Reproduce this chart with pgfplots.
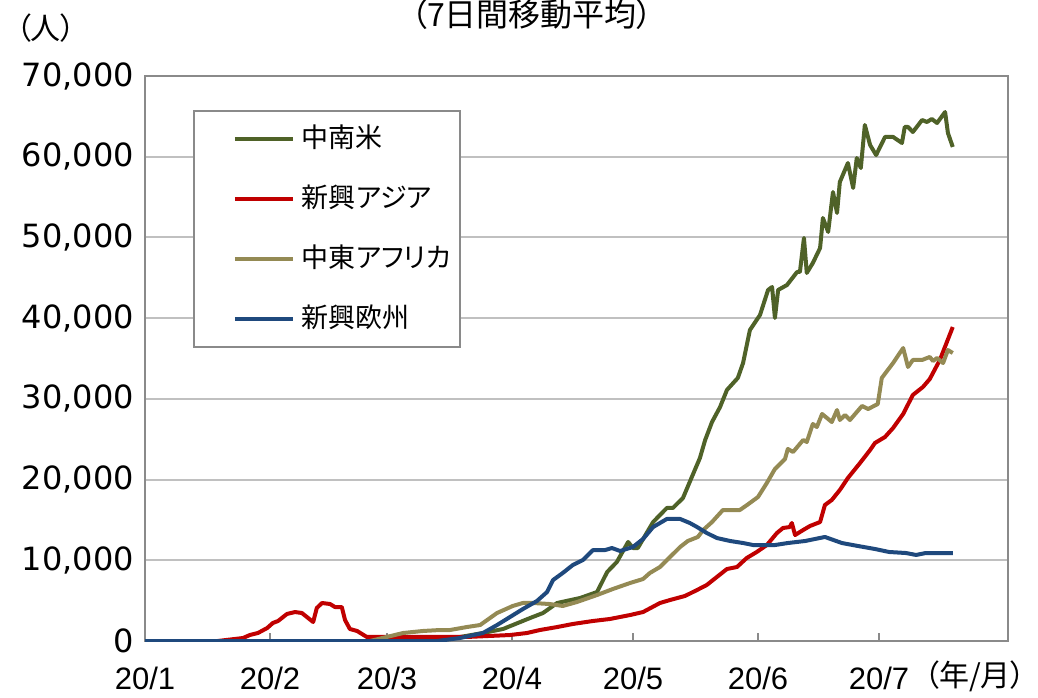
\documentclass[border=0pt]{standalone}
\usepackage{fontspec}
\usepackage{pgfplots}
\pgfplotsset{compat=1.18}
\setmainfont{DejaVu Sans}
\newfontfamily\jp[RawFeature=+palt]{Noto Sans CJK JP}
\newfontfamily\xf{Liberation Sans}
\definecolor{cgreen}{HTML}{4F6228}
\definecolor{cred}{HTML}{C00000}
\definecolor{ctan}{HTML}{948A54}
\definecolor{cblue}{HTML}{1F497D}
\definecolor{cgrid}{HTML}{C0C0C0}
\definecolor{caxis}{HTML}{8A8A8A}
\begin{document}
\begin{tikzpicture}
\useasboundingbox (0,0) rectangle (519pt,348.5pt);
\begin{axis}[
  at={(72.5pt,28pt)}, anchor=south west,
  scale only axis, width=431.5pt, height=282.5pt,
  xmin=0, xmax=214, ymin=0, ymax=70000,
  xtick={0,31,60,91,121,152,182},
  xticklabels={20/1,20/2,20/3,20/4,20/5,20/6,20/7},
  ytick={0,10000,20000,30000,40000,50000,60000,70000},
  ymajorgrids, grid style={cgrid, line width=1pt},
  axis line style={caxis, line width=1pt},
  x tick style={caxis, line width=1pt}, xtick pos=bottom, xtick align=inside,
  major tick length=4pt,
  ytick style={draw=none},
  scaled y ticks=false,
  yticklabel style={font=\fontsize{16}{18}\selectfont, xshift=-2pt,
    /pgf/number format/.cd, fixed, 1000 sep={,}, assume math mode=true},
  xticklabel style={font=\xf\fontsize{15.5}{18}\selectfont, yshift=-9.5pt},
  legend style={at={(0.0556,0.9398)}, anchor=north west, draw=caxis, line width=1pt,
    inner xsep=12pt, inner ysep=8pt, row sep=18pt, column sep=3.5pt,
    nodes={font=\jp\fontsize{13.5}{16}\selectfont, inner sep=0pt, text height=10pt,
      text depth=2pt, anchor=west, text width=67pt}},
  legend image code/.code={\path (0pt,0pt); \draw[#1, line width=2pt] (7.5pt,0pt) -- (36.5pt,0pt);},
  every axis plot/.append style={line width=2pt, line join=round, mark=none},
]
\addplot[cgreen] coordinates {
(0,0) (72.4,0) (83.8,990) (88.8,1490) (95.5,2850) (98.7,3470) (102.2,4710) (107.9,5330)
(112.1,6070) (114.6,8550) (117.0,9790) (119.8,12270) (121.0,11520) (122.2,11520)
(126.0,14740) (129.4,16480) (130.9,16480) (133.4,17720) (135.6,20320) (137.6,22670)
(138.9,24900) (140.6,27130) (142.6,28990) (144.3,31100) (147.0,32590) (148.3,34440)
(150.0,38530) (152.5,40390) (154.5,43490) (155.5,43860) (156.2,40020) (157.0,43490)
(159.2,44110) (161.7,45720) (162.4,45720) (163.4,49930) (164.1,45600) (165.6,46830)
(167.4,48690) (168.1,52410) (169.4,50680) (170.6,55630) (171.6,53030) (172.3,56870)
(174.3,59220) (175.6,56130) (176.5,59840) (177.5,58600) (178.5,63930) (179.8,61450)
(181.3,60210) (183.5,62450) (185.5,62450) (187.7,61700) (188.4,63690) (189.2,63690)
(190.4,63060) (192.7,64550) (193.9,64300) (195.1,64680) (196.4,64180) (198.4,65540)
(199.1,62940) (200.3,61210)
};
\addlegendentry{中南米}
\addplot[cred] coordinates {
(0,0) (18,0) (24.3,370) (26.0,740) (28.0,990) (30.3,1610) (31.7,2230) (33.0,2480)
(35.2,3350) (37.2,3590) (38.9,3470) (41.7,2350) (42.6,4090) (43.9,4710) (45.9,4580)
(47.1,4210) (48.8,4210) (49.6,2600) (50.8,1490) (52.6,1240) (55.0,500) (58.3,500)
(63.2,500) (79.8,500) (90.5,740) (94.7,990) (97.9,1360) (102.2,1730) (106.1,2110)
(111.1,2480) (115.3,2730) (120.3,3220) (123.5,3590) (127.7,4710) (130.2,5080)
(133.9,5580) (136.9,6320) (139.3,6940) (141.8,7930) (144.3,8920) (146.8,9170)
(149.2,10280) (151.7,11030) (154.2,11890) (156.7,13380) (158.2,14000) (159.9,14120)
(160.4,14620) (161.2,13130) (163.2,13750) (164.9,14250) (167.4,14740) (168.6,16850)
(170.3,17470) (172.3,18710) (174.3,20200) (177.3,22050) (179.8,23660) (181.0,24530)
(183.5,25280) (185.5,26390) (188.0,28130) (190.4,30480) (192.9,31470) (194.6,32460)
(197.1,34820) (200.3,38900)
};
\addlegendentry{新興アジア}
\addplot[ctan] coordinates {
(0,0) (55.8,0) (64.0,990) (68.9,1240) (73.1,1360) (75.6,1360) (79.8,1730) (83.1,1980)
(87.3,3470) (91.2,4340) (93.7,4710) (96.2,4710) (100.4,4580) (103.6,4340) (107.1,4830)
(112.1,5700) (116.0,6440) (120.3,7190) (123.5,7680) (125.2,8430) (127.7,9170)
(130.2,10410) (132.7,11650) (134.6,12390) (137.1,12890) (138.4,13750) (140.6,14740)
(143.3,16230) (145.1,16230) (147.5,16230) (149.3,16850) (152.0,17840) (154.2,19580)
(156.2,21310) (158.7,22550) (159.4,23790) (160.7,23420) (163.2,24900) (164.1,24660)
(165.6,26890) (166.6,26510) (167.9,28130) (170.3,27130) (171.6,28620) (172.3,27380)
(173.6,28000) (174.8,27380) (177.8,29120) (179.3,28740) (181.7,29360) (182.7,32590)
(185.5,34440) (188.0,36300) (189.2,33950) (190.4,34820) (192.7,34820) (194.6,35190)
(195.4,34690) (196.4,35060) (197.9,34440) (199.1,36050) (200.3,35680)
};
\addlegendentry{中東アフリカ}
\addplot[cblue] coordinates {
(0,0) (72.4,0) (78.1,370) (83.8,990) (87.3,1980) (90.5,2970) (93.7,3960) (97.2,4960)
(99.7,6070) (101.2,7560) (103.6,8430) (106.1,9420) (108.6,10040) (111.1,11270)
(114.1,11270) (115.8,11520) (117.8,11150) (121.0,11650) (123.5,12640) (126.0,14120)
(129.4,15120) (132.7,15120) (135.1,14620) (136.9,14120) (139.3,13380) (141.8,12760)
(145.1,12390) (148.3,12140) (150.8,11890) (153.2,11890) (156.2,11890) (159.4,12140)
(163.7,12390) (168.6,12890) (172.8,12140) (176.8,11770) (181.0,11400) (184.5,11030)
(188.7,10900) (191.2,10660) (193.6,10900) (200.3,10900)
};
\addlegendentry{新興欧州}
\end{axis}
\node[font=\jp\fontsize{16}{18}\selectfont] at (266pt,341.5pt) {（7日間移動平均）};
\node[font=\jp\fontsize{15}{17}\selectfont] at (23pt,334.5pt) {（人）};
\node[font=\jp\fontsize{15}{17}\selectfont] at (487.5pt,10.5pt) {（年/月）};
\end{tikzpicture}
\end{document}
